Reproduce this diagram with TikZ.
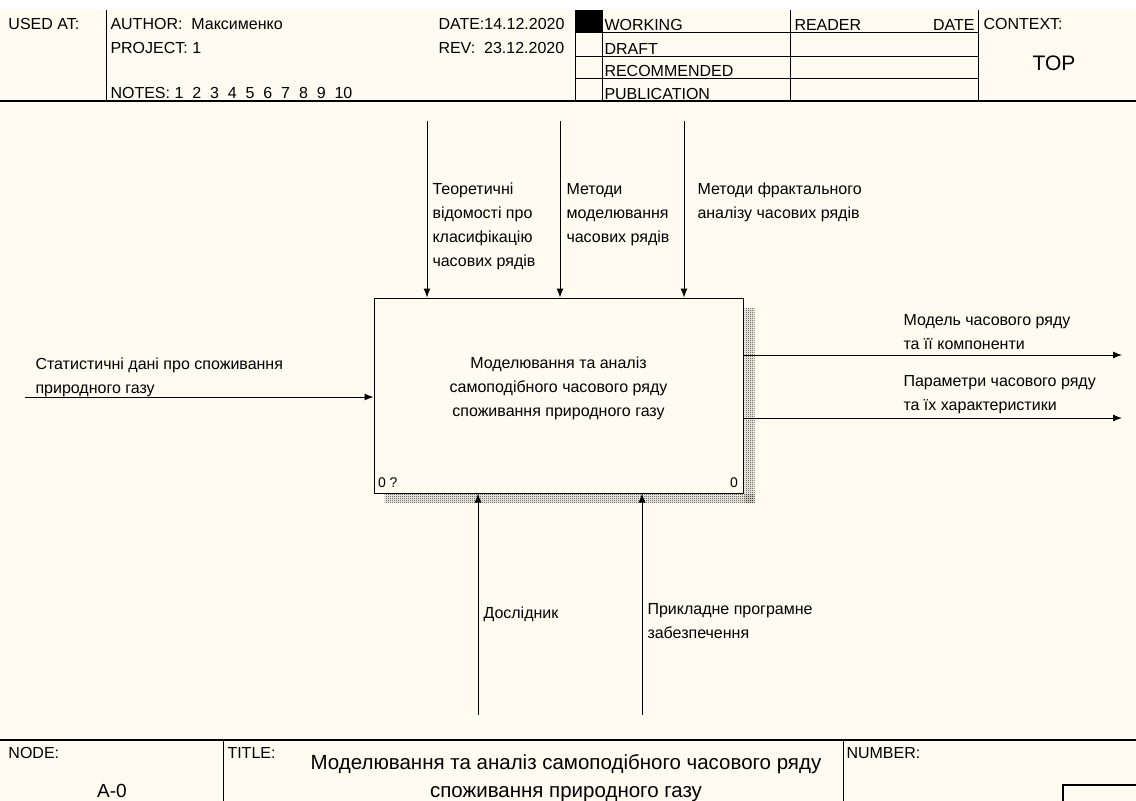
\documentclass[tikz,border=0pt]{standalone}
\usepackage{fontspec}
\setmainfont{Liberation Sans}
\usetikzlibrary{positioning,calc,arrows.meta,patterns}
\definecolor{paper}{RGB}{255,251,240}
\pgfdeclarepatternformonly{finecheck}{\pgfpointorigin}{\pgfpoint{2pt}{2pt}}{\pgfpoint{2pt}{2pt}}
{\pgfpathrectangle{\pgfpointorigin}{\pgfpoint{1pt}{1pt}}
 \pgfpathrectangle{\pgfpoint{1pt}{1pt}}{\pgfpoint{1pt}{1pt}}
 \pgfusepath{fill}}

\begin{document}
\begin{tikzpicture}[x=1pt,y=-1pt,line width=1pt,
lbl/.style={anchor=base west,inner sep=0pt,align=left,font=\fontsize{16}{24}\selectfont},
hdr/.style={anchor=base west,inner sep=0pt,font=\fontsize{16}{18}\selectfont},
arr/.style={-{Latex[length=9pt,width=7pt]}},
frame/.style={line width=2pt},
shadow/.style={pattern=finecheck,pattern color=black!85}]
\useasboundingbox (0,0) rectangle (1136,801);
\fill[white] (0,0) rectangle (1136,10);
\fill[paper] (0,10) rectangle (1136,801);
% header
\draw[frame] (0,101) -- (1136,101);
\foreach \X in {106,575,602,790,978} \draw (\X,10) -- (\X,101);
\foreach \Y in {32,56,78} \draw (575,\Y) -- (978,\Y);
\fill (575,10) rectangle (602,32);
\node[hdr] (usedat) at (8,29) {USED AT:};
\node[hdr] (author) at (110,29) {AUTHOR:\ \ Максименко};
\node[hdr] (project) at (110,53) {PROJECT:\ 1};
\node[hdr] (notes) at (110,98) {NOTES:\ 1\ \ 2\ \ 3\ \ 4\ \ 5\ \ 6\ \ 7\ \ 8\ \ 9\ \ 10};
\node[hdr] (date) at (438,29) {DATE:14.12.2020};
\node[hdr] (rev) at (438,53) {REV:\ \ 23.12.2020};
\node[hdr] (working) at (604,30) {WORKING};
\node[hdr] (draft) at (604,54) {DRAFT};
\node[hdr] (recom) at (604,76) {RECOMMENDED};
\node[hdr] (public) at (604,99) {PUBLICATION};
\node[hdr] (reader) at (794,30) {READER};
\node[hdr,anchor=base east] (rdate) at (975,30) {DATE};
\node[hdr] (context) at (983,29) {CONTEXT:};
\node[hdr,anchor=base,font=\fontsize{21}{24}\selectfont] (top) at (1054,70) {TOP};
% activity box with shadow
\coordinate (bc) at (558.5,395.5);
\fill[shadow] ($(bc)+(186,-87)$) rectangle ($(bc)+(196,107)$);
\fill[shadow] ($(bc)+(-174,99)$) rectangle ($(bc)+(196,107)$);
\node[draw,fill=paper,minimum width=369pt,minimum height=195pt,inner sep=0pt] (A0) at (bc) {};
\node[lbl,anchor=base,align=center] (A0text) at (558.5,416)
{Моделювання та аналіз\\самоподібного часового ряду\\споживання природного газу};
\node[hdr,font=\fontsize{14}{16}\selectfont] (num) at ($(A0.south west)+(4,-6)$) {0 ?};
\node[hdr,anchor=base east,font=\fontsize{14}{16}\selectfont] (num2) at ($(A0.south east)+(-5,-6)$) {0};
% controls
\foreach \n/\X in {c1/427,c2/560,c3/684}
{\coordinate (\n) at (\X,121);
 \draw[arr] (\n) -- (\n |- A0.north);}
\node[lbl] (l1) at (432,266) {Теоретичні\\відомості про\\класифікацію\\часових рядів};
\node[lbl] (l2) at (566,242) {Методи\\моделювання\\часових рядів};
\node[lbl] (l3) at (697,218) {Методи фрактального\\аналізу часових рядів};
% input
\coordinate (i1) at (25,397);
\draw[arr] (i1) -- (i1 -| A0.west);
\node[lbl] (l4) at (35,393) {Статистичні дані про споживання\\природного газу};
% outputs
\foreach \n/\Y in {o1/355,o2/418}
{\coordinate (\n) at (1122,\Y);
 \draw[arr] (\n -| A0.east) -- (\n);}
\node[lbl] (l5) at (903,349) {Модель часового ряду\\та її компоненти};
\node[lbl] (l6) at (903,410) {Параметри часового ряду\\та їх характеристики};
% mechanisms
\foreach \n/\X in {m1/478,m2/642}
{\coordinate (\n) at (\X,715);
 \draw[arr] (\n) -- (\n |- A0.south);}
\node[lbl] (l7) at (483,618) {Дослідник};
\node[lbl] (l8) at (647,638) {Прикладне програмне\\забезпечення};
% footer
\draw[frame] (0,740) -- (1136,740);
\draw (223,740) -- (223,801);
\draw (843,740) -- (843,801);
\draw[frame] (1063,801) |- (1137,785);
\node[hdr] (node) at (8,758) {NODE:};
\node[hdr,anchor=base,font=\fontsize{19}{22}\selectfont] (nodeid) at (112,797) {A-0};
\node[hdr] (title) at (227,758) {TITLE:};
\node[hdr,anchor=base,align=center,font=\fontsize{20.5}{28}\selectfont] (ttext) at (566,797)
{Моделювання та аналіз самоподібного часового ряду\\споживання природного газу};
\node[hdr] (number) at (846,758) {NUMBER:};
\end{tikzpicture}
\end{document}
